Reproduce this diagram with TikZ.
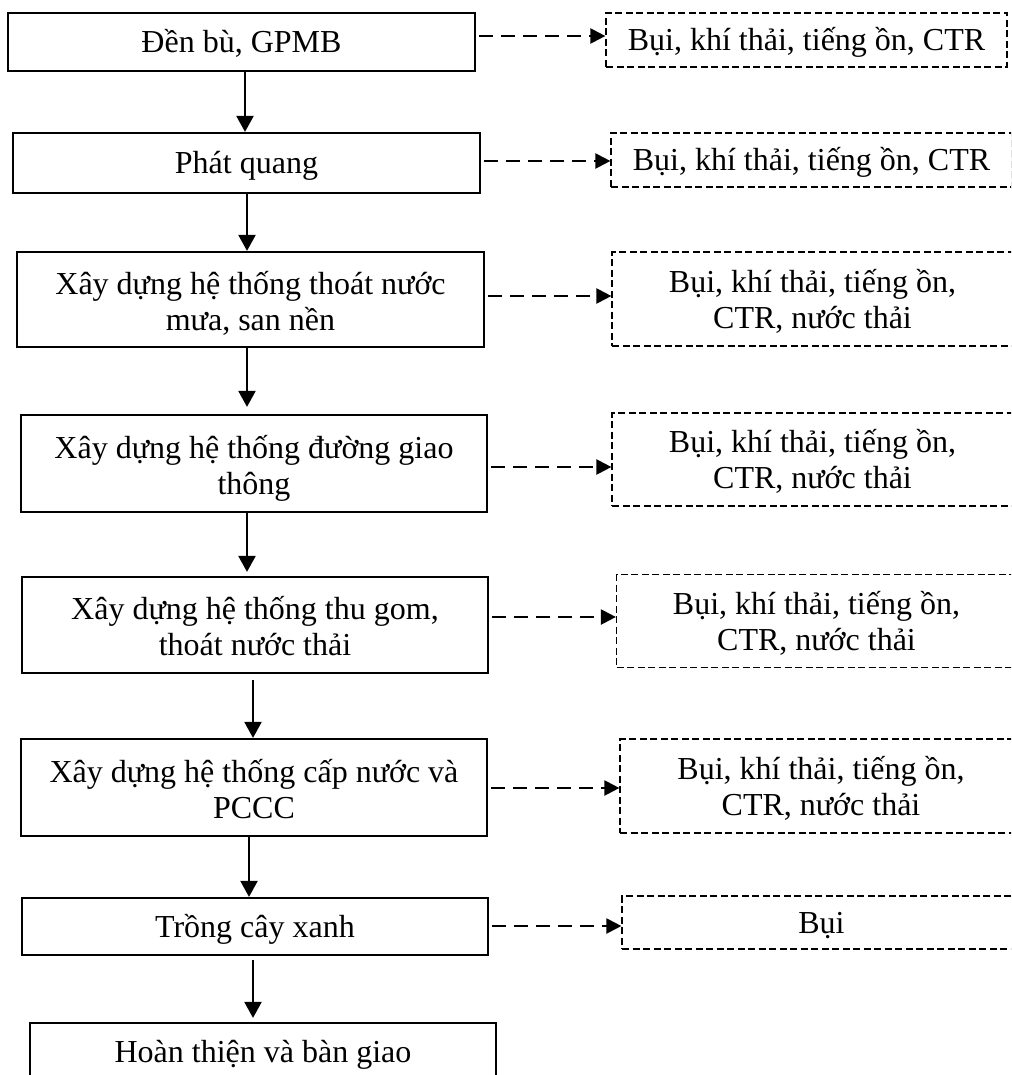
\documentclass[tikz,border=0pt]{standalone}
\usepackage{fontspec}
\setmainfont{Liberation Serif}
\usetikzlibrary{arrows.meta}
\begin{document}
\begin{tikzpicture}[x=1pt,y=-1pt,
  txt/.style={font=\fontsize{32}{36}\selectfont},
  sbox/.style={txt, draw, line width=2.2pt, inner sep=0pt, align=center},
  dbox/.style={txt, draw, line width=1.2pt, dash pattern=on 7pt off 3.5pt, inner sep=0pt, align=center},
  one/.style={text height=21.2pt, text depth=0pt},
  two/.style={text height=61pt, text depth=0pt},
  dtwo/.style={text height=58pt, text depth=0pt},
  varr/.style={line width=2.2pt, -{Triangle[length=16pt,width=17pt]}},
  harr/.style={line width=2.2pt, dash pattern=on 14pt off 8pt, shorten <=3pt, -{Triangle[length=15pt,width=15pt]}},
]
\useasboundingbox (0,0) rectangle (1011,1075);
\clip (0,0) rectangle (1011,1075);
% main steps
\node[sbox, one, minimum width=467pt, minimum height=58pt] (b1) at (241.5,42) {Đền bù, GPMB};
\node[sbox, one, minimum width=467pt, minimum height=60pt] (b2) at (246.5,163) {Phát quang};
\node[sbox, two, minimum width=467pt, minimum height=95pt] (b3) at (250.5,299.5) {Xây dựng hệ thống thoát nước\\mưa, san nền};
\node[sbox, two, minimum width=466pt, minimum height=97pt] (b4) at (254,463.5) {Xây dựng hệ thống đường giao\\thông};
\node[sbox, two, minimum width=466pt, minimum height=96pt] (b5) at (255,625) {Xây dựng hệ thống thu gom,\\thoát nước thải};
\node[sbox, two, minimum width=466pt, minimum height=97pt] (b6) at (254,787.5) {Xây dựng hệ thống cấp nước và\\PCCC};
\node[sbox, one, minimum width=466pt, minimum height=57pt] (b7) at (255,926.5) {Trồng cây xanh};
\node[sbox, one, minimum width=466pt, minimum height=57pt] (b8) at (263,1051.5) {Hoàn thiện và bàn giao};
% impacts
\node[dbox, one, minimum width=401pt, minimum height=54pt] (d1) at (806.5,40) {Bụi, khí thải, tiếng ồn, CTR};
\node[dbox, one, minimum width=401pt, minimum height=54pt] (d2) at (811.5,160) {Bụi, khí thải, tiếng ồn, CTR};
\node[dbox, dtwo, minimum width=401pt, minimum height=94pt] (d3) at (812.5,299) {Bụi, khí thải, tiếng ồn,\\CTR, nước thải};
\node[dbox, dtwo, minimum width=401pt, minimum height=93pt] (d4) at (812.5,459.5) {Bụi, khí thải, tiếng ồn,\\CTR, nước thải};
\node[dbox, dtwo, minimum width=400pt, minimum height=93pt] (d5) at (816.5,621) {Bụi, khí thải, tiếng ồn,\\CTR, nước thải};
\node[dbox, dtwo, minimum width=402pt, minimum height=94pt] (d6) at (821,786) {Bụi, khí thải, tiếng ồn,\\CTR, nước thải};
\node[dbox, one, minimum width=399pt, minimum height=53pt] (d7) at (821.5,922.5) {Bụi};
% flow arrows
\draw[varr] (245,0 |- b1.south) -- (245,0 |- b2.north);
\draw[varr] (247,0 |- b2.south) -- (247,0 |- b3.north);
\draw[varr, shorten >=7pt] (247,0 |- b3.south) -- (247,0 |- b4.north);
\draw[varr, shorten >=4pt] (247,0 |- b4.south) -- (247,0 |- b5.north);
\draw[varr, shorten <=6pt] (253,0 |- b5.south) -- (253,0 |- b6.north);
\draw[varr] (249,0 |- b6.south) -- (249,0 |- b7.north);
\draw[varr, shorten <=4pt, shorten >=4pt] (253,0 |- b7.south) -- (253,0 |- b8.north);
% impact arrows
\draw[harr] (b1.east |- 0,36) -- (d1.west |- 0,36);
\draw[harr] (b2.east |- 0,161) -- (d2.west |- 0,161);
\draw[harr] (b3.east |- 0,296) -- (d3.west |- 0,296);
\draw[harr] (b4.east |- 0,467) -- (d4.west |- 0,467);
\draw[harr] (b5.east |- 0,617) -- (d5.west |- 0,617);
\draw[harr] (b6.east |- 0,788) -- (d6.west |- 0,788);
\draw[harr] (b7.east |- 0,926) -- (d7.west |- 0,926);
\end{tikzpicture}
\end{document}
